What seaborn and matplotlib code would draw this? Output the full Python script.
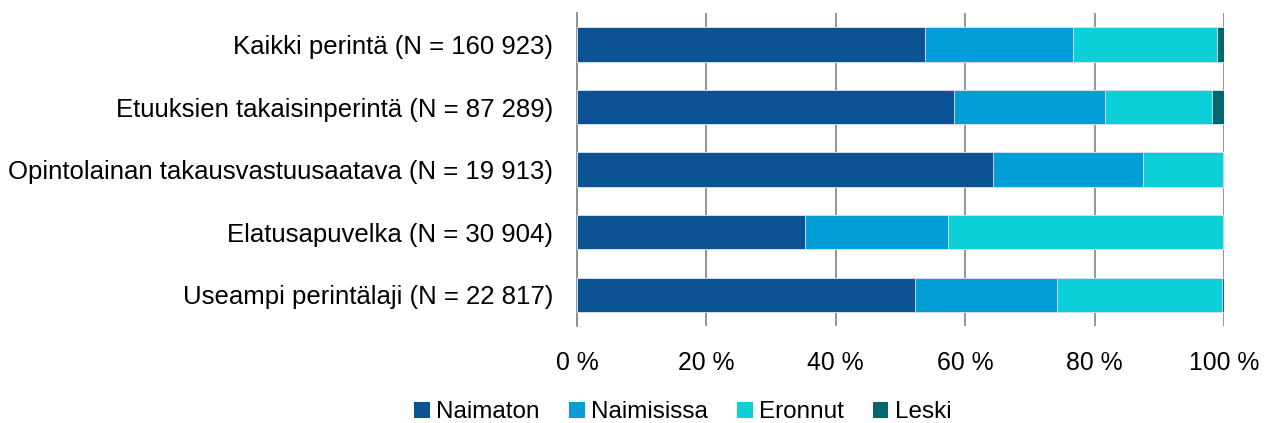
import numpy as np
import pandas as pd
import matplotlib
matplotlib.use("Agg")
import matplotlib.pyplot as plt
import seaborn as sns
from matplotlib.patches import Patch
from matplotlib.ticker import FixedLocator, FuncFormatter

# =========================
# Data
# =========================
categories = [
    "Kaikki perintä (N = 160 923)",
    "Etuuksien takaisinperintä (N = 87 289)",
    "Opintolainan takausvastuusaatava (N = 19 913)",
    "Elatusapuvelka (N = 30 904)",
    "Useampi perintälaji (N = 22 817)",
]
series_names = ["Naimaton", "Naimisissa", "Eronnut", "Leski"]

naimaton = [53.8, 58.3, 64.3, 35.2, 52.3]
naimisissa = [22.8, 23.3, 23.2, 22.1, 21.9]
eronnut = [22.3, 16.6, 12.3, 42.5, 25.5]
leski = [1.1, 1.8, 0.2, 0.2, 0.3]

colors = ["#0C5394", "#019ED8", "#0CCFD8", "#05676B"]

# =========================
# Style
# =========================
sns.set_style("white")
plt.rcParams["font.family"] = ["Liberation Sans", "DejaVu Sans"]
plt.rcParams["text.color"] = "black"
plt.rcParams["xtick.color"] = "black"
plt.rcParams["ytick.color"] = "black"

fig = plt.figure(figsize=(12.69, 4.23), dpi=100)
ax = fig.add_axes([0.4547, 0.229, 0.5098, 0.740])

# stacked bars: draw cumulative totals from the longest to the shortest
values = [naimaton, naimisissa, eronnut, leski]
cumulative = np.cumsum(np.array(values), axis=0)

for i in range(len(values) - 1, -1, -1):
    df = pd.DataFrame({"Kategoria": categories, "Osuus": cumulative[i]})
    sns.barplot(
        data=df,
        x="Osuus",
        y="Kategoria",
        color=colors[i],
        saturation=1,
        width=0.55,
        edgecolor="#dde6ee",
        linewidth=0.6,
        ax=ax,
        zorder=3,
    )

# =========================
# Axes
# =========================
ax.set_xlim(0, 100)
ax.set_ylim(len(categories) - 0.5, -0.5)
ax.set_xlabel("")
ax.set_ylabel("")

ax.set_xticks([0, 20, 40, 60, 80, 100])
ax.xaxis.set_major_formatter(FuncFormatter(lambda v, p: f"{v:.0f} %"))
ax.tick_params(axis="x", length=0, pad=18, labelsize=17.8, labelcolor="black")
ax.grid(axis="x", color="#8c8c8c", linewidth=1.3, zorder=0)

ax.tick_params(axis="y", which="major", length=0, pad=17, labelsize=18.5,
               labelcolor="black")
ax.yaxis.set_minor_locator(FixedLocator(np.arange(-0.5, len(categories), 1)))
ax.tick_params(axis="y", which="minor", length=5, width=1.3, color="#8c8c8c",
               direction="out")

for side in ["top", "right", "bottom"]:
    ax.spines[side].set_visible(False)
ax.spines["left"].set_color("#8c8c8c")
ax.spines["left"].set_linewidth(1.3)

# =========================
# Legend
# =========================
handles = [Patch(facecolor=c, edgecolor="none") for c in colors]
leg = fig.legend(
    handles,
    series_names,
    loc="center",
    bbox_to_anchor=(0.538, 0.025),
    ncol=4,
    frameon=False,
    fontsize=17.5,
    handlelength=0.65,
    handleheight=0.65,
    handletextpad=0.25,
    columnspacing=1.2,
)
for t in leg.get_texts():
    t.set_color("black")

fig.savefig("out.png", dpi=100)
